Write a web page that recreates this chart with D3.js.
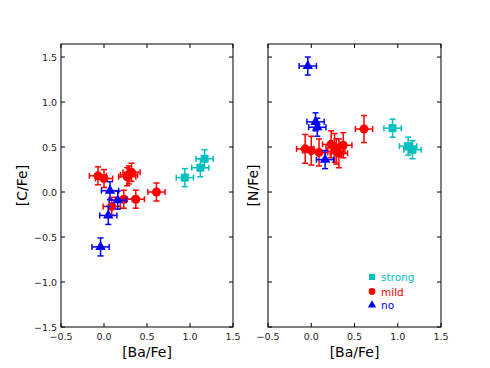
<!DOCTYPE html>
<html><head><meta charset="utf-8">
<script src="https://cdn.jsdelivr.net/npm/d3@7"></script>
<style>body{margin:0;background:#fff}svg{display:block}text{font-family:"DejaVu Sans",sans-serif}</style>
</head><body><svg id="c" width="490" height="368"></svg>
<script>
// ---- data ----
const groups = ["strong", "mild", "no"];
const groupColors = ["#00BFBF", "#FF0000", "#0000FF"];
// strong
const strongBa = [0.94, 1.12, 1.17];
const strongC  = [0.16, 0.27, 0.37];
const strongN  = [0.71, 0.51, 0.47];
const strongBaErr = [0.1, 0.1, 0.1];
const strongCErr  = [0.1, 0.1, 0.1];
const strongNErr  = [0.1, 0.1, 0.1];
// mild
const mildBa = [-0.07, 0.00, 0.09, 0.23, 0.27, 0.29, 0.32, 0.37, 0.61];
const mildC  = [0.18, 0.15, -0.16, -0.08, 0.17, 0.19, 0.22, -0.08, 0.00];
const mildN  = [0.48, 0.46, 0.44, 0.53, 0.49, 0.45, 0.43, 0.52, 0.70];
const mildBaErr = [0.1, 0.1, 0.1, 0.1, 0.1, 0.1, 0.1, 0.1, 0.1];
const mildCErr  = [0.1, 0.1, 0.1, 0.1, 0.1, 0.1, 0.1, 0.1, 0.1];
const mildNErr  = [0.16, 0.16, 0.15, 0.15, 0.16, 0.14, 0.16, 0.14, 0.15];
// no
const noBa = [-0.04, 0.05, 0.07, 0.16];
const noC  = [-0.61, -0.26, 0.015, -0.09];
const noN  = [1.40, 0.78, 0.72, 0.36];
const noBaErr = [0.1, 0.1, 0.1, 0.1];
const noCErr  = [0.1, 0.1, 0.1, 0.1];
const noNErr  = [0.1, 0.1, 0.1, 0.1];

const xTicks = [-0.5, 0.0, 0.5, 1.0, 1.5];
const yTicks = [-1.5, -1.0, -0.5, 0.0, 0.5, 1.0, 1.5];

// ---- layout ----
const svg = d3.select("#c");
const pTop = 44, pBottom = 327;
const panels = [
  {x0: 61, x1: 233, ylab: "[C/Fe]", key: "C", showY: true, legend: false, ylabX: 27},
  {x0: 268, x1: 441, ylab: "[N/Fe]", key: "N", showY: false, legend: true, ylabX: 258}
];
const y = d3.scaleLinear().domain([-1.5, 1.645]).range([pBottom, pTop]);

const sets = [
  {name: "strong", color: groupColors[0], shape: d3.symbolSquare, size: 64, ba: strongBa, baE: strongBaErr, C: strongC, CE: strongCErr, N: strongN, NE: strongNErr},
  {name: "mild", color: groupColors[1], shape: d3.symbolCircle, size: 64, ba: mildBa, baE: mildBaErr, C: mildC, CE: mildCErr, N: mildN, NE: mildNErr},
  {name: "no", color: groupColors[2], shape: d3.symbolTriangle, size: 48, ba: noBa, baE: noBaErr, C: noC, CE: noCErr, N: noN, NE: noNErr}
];
const fmt = d => (d < 0 ? "\u2212" : "") + Math.abs(d).toFixed(1);

panels.forEach(p => {
  const x = d3.scaleLinear().domain([-0.5, 1.5]).range([p.x0, p.x1]);
  const g = svg.append("g");
  const tk = 4;
  xTicks.forEach(t => {
    g.append("line").attr("x1", x(t)).attr("x2", x(t)).attr("y1", pBottom).attr("y2", pBottom - tk).attr("stroke", "#000").attr("stroke-width", 1);
    g.append("line").attr("x1", x(t)).attr("x2", x(t)).attr("y1", pTop).attr("y2", pTop + tk).attr("stroke", "#000").attr("stroke-width", 1);
    g.append("text").attr("x", x(t)).attr("y", pBottom + 13).attr("text-anchor", "middle").attr("font-size", 9.5).attr("fill", "#222").text(fmt(t));
  });
  yTicks.forEach(t => {
    g.append("line").attr("x1", p.x0).attr("x2", p.x0 + tk).attr("y1", y(t)).attr("y2", y(t)).attr("stroke", "#000").attr("stroke-width", 1);
    g.append("line").attr("x1", p.x1).attr("x2", p.x1 - tk).attr("y1", y(t)).attr("y2", y(t)).attr("stroke", "#000").attr("stroke-width", 1);
    if (p.showY) g.append("text").attr("x", p.x0 - 4).attr("y", y(t) + 3.5).attr("text-anchor", "end").attr("font-size", 9.5).attr("fill", "#222").text(fmt(t));
  });
  sets.forEach(s => {
    const vals = s[p.key], errs = s[p.key + "E"];
    const eg = g.append("g").attr("stroke", s.color).attr("stroke-width", 1.5).attr("fill", "none");
    s.ba.forEach((b, i) => {
      const cx = x(b), cy = y(vals[i]);
      const xl = x(b - s.baE[i]), xr = x(b + s.baE[i]);
      const yt = y(vals[i] + errs[i]), yb = y(vals[i] - errs[i]);
      const cap = 3;
      eg.append("line").attr("x1", xl).attr("x2", xr).attr("y1", cy).attr("y2", cy);
      eg.append("line").attr("x1", xl).attr("x2", xl).attr("y1", cy - cap).attr("y2", cy + cap);
      eg.append("line").attr("x1", xr).attr("x2", xr).attr("y1", cy - cap).attr("y2", cy + cap);
      eg.append("line").attr("x1", cx).attr("x2", cx).attr("y1", yt).attr("y2", yb);
      eg.append("line").attr("x1", cx - cap).attr("x2", cx + cap).attr("y1", yt).attr("y2", yt);
      eg.append("line").attr("x1", cx - cap).attr("x2", cx + cap).attr("y1", yb).attr("y2", yb);
    });
    g.append("g").selectAll("path").data(s.ba).join("path")
      .attr("d", d3.symbol().type(s.shape).size(s.size))
      .attr("transform", (b, i) => `translate(${x(b)},${y(vals[i])})`)
      .attr("fill", s.color);
  });
  g.append("rect").attr("x", p.x0).attr("y", pTop).attr("width", p.x1 - p.x0).attr("height", pBottom - pTop)
    .attr("fill", "none").attr("stroke", "#000").attr("stroke-width", 1);
  g.append("text").attr("x", (p.x0 + p.x1) / 2).attr("y", 357).attr("text-anchor", "middle").attr("font-size", 14).attr("fill", "#000").text("[Ba/Fe]");
  g.append("text").attr("transform", `translate(${p.ylabX},${(pTop + pBottom) / 2}) rotate(-90)`).attr("text-anchor", "middle").attr("font-size", 14).attr("fill", "#000").text(p.ylab);
  if (p.legend) {
    const lx = 372, ly = [277, 291.5, 305];
    sets.forEach((s, i) => {
      g.append("path").attr("d", d3.symbol().type(s.shape).size(s.name === "no" ? 30 : 36)).attr("transform", `translate(${lx},${ly[i]})`).attr("fill", s.color);
      g.append("text").attr("x", lx + 9).attr("y", ly[i] + 4).attr("font-size", 10.5).attr("fill", s.color).text(groups[i]);
    });
  }
});
</script></body></html>
